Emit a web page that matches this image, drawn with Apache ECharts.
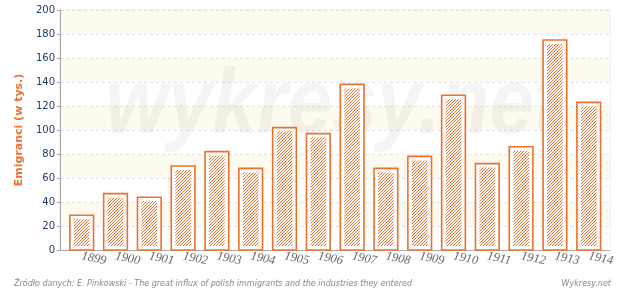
<!DOCTYPE html>
<html><head><meta charset="utf-8">
<script src="https://cdn.jsdelivr.net/npm/echarts@6/dist/echarts.min.js"></script>
<style>html,body{margin:0;padding:0;background:#fff}#c{width:620px;height:291px}</style>
</head><body><div id="c"></div>
<script>
const years = ['1899','1900','1901','1902','1903','1904','1905','1906','1907','1908','1909','1910','1911','1912','1913','1914'];
const emigrants = [29, 47, 44, 70, 82, 68, 102, 97, 138, 68, 78, 129, 72, 86, 175, 123];
const yTicks = { min: 0, max: 200, interval: 20 };
const axisName = 'Emigranci (w tys.)';
const sourceText = 'Źródło danych: E. Pinkowski - The great influx of polish immigrants and the industries they entered';
const brandText = 'Wykresy.net';

const ORANGE = '#f26f2a';
const pat = document.createElement('canvas');
pat.width = 3; pat.height = 3;
const pc = pat.getContext('2d');
pc.fillStyle = ORANGE;
for (let i = 0; i < 3; i++) pc.fillRect(i, 2 - i, 1, 1);

const chart = echarts.init(document.getElementById('c'), null, {renderer: 'canvas'});
chart.setOption({
  animation: false,
  grid: [
    {left: 60, right: 10, top: 10, bottom: 41, show: true, borderColor: '#e2e2e2', borderWidth: 1, backgroundColor: 'transparent'},
    {left: 64.8, right: 14.4, top: 10, bottom: 41}
  ],
  xAxis: [
    {gridIndex: 0, type: 'value', min: 0, max: 1, axisLine: {show: true, lineStyle: {color: '#a8a8a8', width: 1}}, axisTick: {show: false}, axisLabel: {show: false}, splitLine: {show: false}},
    {gridIndex: 1, type: 'category', data: years, axisLine: {show: false}, axisTick: {show: false},
     axisLabel: {interval: 0, rotate: -12, margin: 6, color: '#666', fontFamily: 'Liberation Serif', fontStyle: 'italic', fontSize: 12.5, align: 'left'}}
  ],
  yAxis: [
    {gridIndex: 0, type: 'value', min: yTicks.min, max: yTicks.max, interval: yTicks.interval,
     name: axisName, nameLocation: 'middle', nameGap: 33,
     nameTextStyle: {color: ORANGE, fontWeight: 'bold', fontSize: 11, fontFamily: 'DejaVu Sans'},
     axisLine: {show: true, lineStyle: {color: '#a8a8a8', width: 1}},
     axisTick: {show: true, length: 3, lineStyle: {color: '#a8a8a8'}},
     axisLabel: {color: '#1d3c6b', fontFamily: 'DejaVu Sans', fontSize: 10, margin: 5},
     splitLine: {show: true, lineStyle: {color: '#e2e2e2', type: [3, 3]}},
     splitArea: {show: true, areaStyle: {color: ['#ffffff', '#fffaf0']}}},
    {gridIndex: 1, type: 'value', min: yTicks.min, max: yTicks.max, interval: yTicks.interval, show: false}
  ],
  graphic: [
    {type: 'text', z: 1, x: 333, y: 108, scaleY: 1.15, silent: true,
     style: {text: 'wykresy.net', x: 0, y: 0, align: 'center', verticalAlign: 'middle', fill: 'rgba(0,0,0,0.045)', font: 'italic bold 80px "Liberation Sans"'}},
    {type: 'text', left: 14, top: 280, style: {text: sourceText, fill: '#888', font: 'italic 8px "DejaVu Sans"'}},
    {type: 'text', right: 9, top: 280, style: {text: brandText, fill: '#888', font: 'italic 8px "DejaVu Sans"'}}
  ],
  series: [{
    type: 'custom', xAxisIndex: 1, yAxisIndex: 1, z: 5,
    data: emigrants.map((v, i) => [i, v]),
    renderItem: function (params, api) {
      const i = api.value(0), v = api.value(1);
      const top = api.coord([i, v]);
      const base = api.coord([i, 0]);
      const w = api.size([1, 0])[0] * 0.7;
      const h = base[1] - top[1];
      return {type: 'group', children: [
        {type: 'rect', shape: {x: top[0] - w / 2, y: top[1], width: w, height: h}, style: {fill: '#fff', stroke: ORANGE, lineWidth: 1.6}},
        {type: 'rect', shape: {x: top[0] - w / 2 + 4, y: top[1] + 4, width: w - 8, height: h - 8}, style: {fill: {image: pat, repeat: 'repeat'}}}
      ]};
    }
  }]
});
</script></body></html>
